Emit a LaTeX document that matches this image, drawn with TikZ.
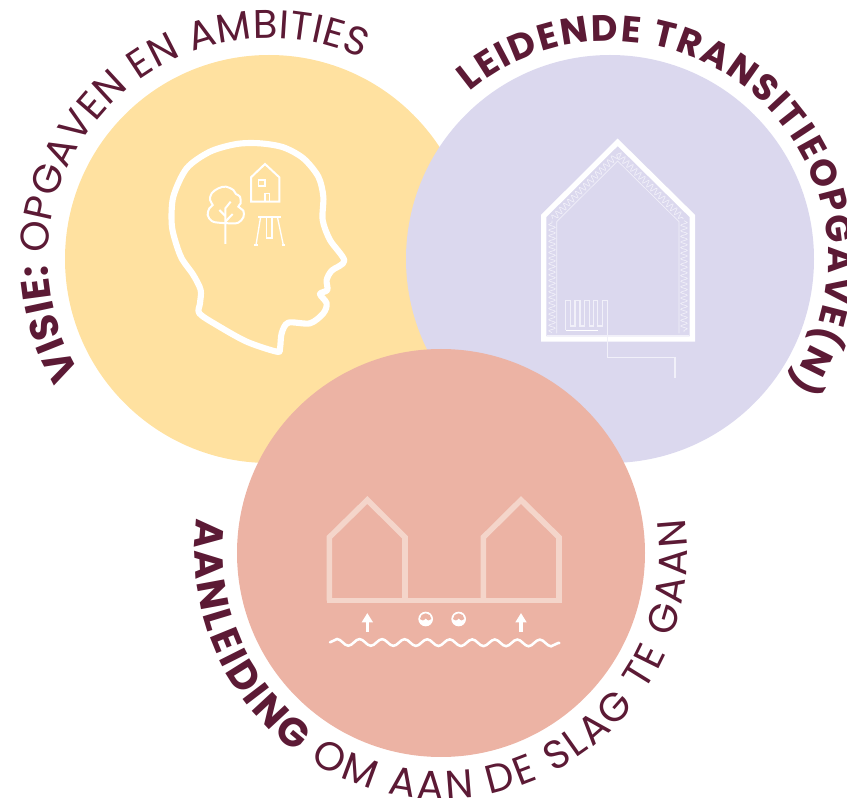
\documentclass[tikz,border=0pt]{standalone}
\usepackage{xcolor}
\usepackage{fontspec}
\setmainfont{Poppins}
\usetikzlibrary{decorations.text,decorations.pathmorphing,arrows.meta}

\definecolor{visiefill}{HTML}{FFE1A0}
\definecolor{opgavefill}{HTML}{DBD8EE}
\definecolor{aanleidingfill}{HTML}{ECB3A4}
\definecolor{ringtext}{HTML}{5C1A35}
\definecolor{palepink}{HTML}{F4D5CA}
\definecolor{palelilac}{HTML}{F1F0F9}

\tikzset{
  ringlabel/.style={decorate,decoration={text along path,text align=fit to path,
      text={#1}}},
  iconline/.style={draw=white,line width=1.5pt,line join=miter},
  thinline/.style={draw=palelilac,line width=0.8pt},
  wavyline/.style={draw=palelilac,line width=0.5pt,decorate,
      decoration={snake,segment length=4.2pt,amplitude=2.4pt}},
}

\begin{document}
\begin{tikzpicture}[x=0.75pt,y=-0.75pt]
  \useasboundingbox (0,0) rectangle (847,798);
  \coordinate (visie) at (269,259);
  \coordinate (opgave) at (610,259);
  \coordinate (aanleiding) at (441,553);
  % Circles
  \fill[visiefill] (visie) circle (204);
  \fill[opgavefill] (opgave) circle (204);
  \fill[aanleidingfill] (aanleiding) circle (204);
  % Ring labels
  \path[ringlabel={|\fontsize{30}{30}\selectfont\color{ringtext}\bfseries|VISIE:|\fontsize{30}{30}\selectfont\color{ringtext}| OPGAVEN EN AMBITIES}]
    (visie) ++(149:221) arc (149:295:221);
  \path[ringlabel={|\fontsize{27.5}{30}\selectfont\color{ringtext}\bfseries|LEIDENDE TRANSITIEOPGAVE(N)}]
    (opgave) ++(-130:218) arc (-130:35:218);
  \path[ringlabel={|\fontsize{30}{30}\selectfont\color{ringtext}\bfseries|AANLEIDING|\fontsize{30}{30}\selectfont\color{ringtext}| OM AAN DE SLAG TE GAAN}]
    (aanleiding) ++(188:246) arc (188:-8:246);
  % Head
  \begin{scope}[shift={(150,140)},x=0.25pt,y=-0.25pt]
    \draw[white,line width=4.6pt,line join=round] plot[smooth cycle,tension=0.5] coordinates {
      (65,250) (70,170) (110,85) (180,35) (260,12) (330,10) (400,22) (460,55)
      (505,110) (520,170) (518,240) (540,300) (583,362) (545,392) (530,420)
      (532,450) (510,462) (530,490) (520,520) (480,550) (415,548) (395,580)
      (390,625) (380,635) (290,605) (200,555) (148,520) (150,490) (152,450)
      (130,405) (95,355) (75,300)};
    % House, swing and tree
    \draw[iconline] (303,185) -- (303,112) -- (345,72) -- (388,112) -- (388,185) -- cycle;
    \draw[iconline,line width=1pt] (325,120) rectangle (345,138);
    \draw[iconline,line width=1pt] (345,185) -- (345,160) -- (358,160) -- (358,185);
    \draw[iconline] (325,230) -- (392,230);
    \draw[iconline,line width=1pt] (332,230) -- (318,315) (382,230) -- (400,315);
    \draw[iconline,line width=1pt] (312,315) -- (325,315) (395,315) -- (405,315);
    \draw[iconline,line width=1pt] (350,230) -- (350,295) (366,230) -- (366,295);
    \draw[iconline] (348,295) -- (368,295);
    \draw[iconline] (226,312) -- (226,205) -- (242,185);
    \draw[iconline] (226,228) -- (208,210) (226,245) -- (248,222);
    \draw[iconline] plot[smooth cycle,tension=0.6] coordinates {
      (205,248) (185,243) (173,225) (178,205) (188,195) (180,180) (185,160)
      (205,145) (228,140) (250,150) (258,162) (270,170) (272,190) (265,200)
      (280,212) (280,232) (265,248) (245,250)};
  \end{scope}
  % Insulated house
  \begin{scope}[shift={(530,130)},x=0.25pt,y=-0.25pt]
    \draw[white,line width=4pt,line join=miter] (41,258) -- (263,37) -- (487,258)
      -- (487,627) -- (41,627) -- cycle;
    \draw[thinline,line width=0.5pt] (80,610) -- (80,275) -- (263,93) -- (447,275) -- (447,610);
    \draw[thinline,line width=0.5pt] (50,615) -- (478,615);
    \draw[wavyline] (66,608) -- (66,272);
    \draw[wavyline] (68,266) -- (263,72);
    \draw[wavyline] (263,72) -- (460,266);
    \draw[wavyline] (462,272) -- (462,606);
    \draw[thinline] (107,601) -- (107,512) -- (122,512) -- (122,588) -- (135,588)
      -- (135,512) -- (150,512) -- (150,588) -- (163,588) -- (163,512) -- (178,512)
      -- (178,588) -- (190,588) -- (190,512) -- (203,512) -- (203,588) -- (218,588)
      -- (218,512) -- (232,512) -- (232,683) -- (435,683) -- (435,745);
    \draw[white,line width=0.8pt] (107,601) -- (205,601);
  \end{scope}
  % Two houses above the groundwater
  \begin{scope}[shift={(315,485)},x=0.25pt,y=-0.25pt]
    \draw[palepink,line width=4.2pt,line join=miter] (43,347) -- (43,157) -- (157,45)
      -- (270,157) -- (270,347);
    \draw[palepink,line width=4.2pt,line join=miter] (505,347) -- (505,157) -- (618,45)
      -- (732,157) -- (732,347);
    \draw[palepink,line width=4.2pt] (35,347) -- (740,347);
    \foreach \x in {157,618}
      \draw[white,line width=2.4pt,-{Triangle[length=7pt,width=8pt]}] (\x,440) -- (\x,384);
    \foreach \x in {332,431} {
      \fill[white] (\x,402) circle (22);
      \fill[aanleidingfill] (\x-17,402) arc (180:360:17)
        .. controls (\x+12,408) and (\x+6,408) .. (\x,400)
        .. controls (\x-6,408) and (\x-12,408) .. (\x-17,402) -- cycle;
    }
    \draw[white,line width=1.9pt,line cap=round,decorate,
      decoration={snake,segment length=16.9pt,amplitude=2.5pt}] (45,472) -- (733,474);
  \end{scope}
\end{tikzpicture}
\end{document}
